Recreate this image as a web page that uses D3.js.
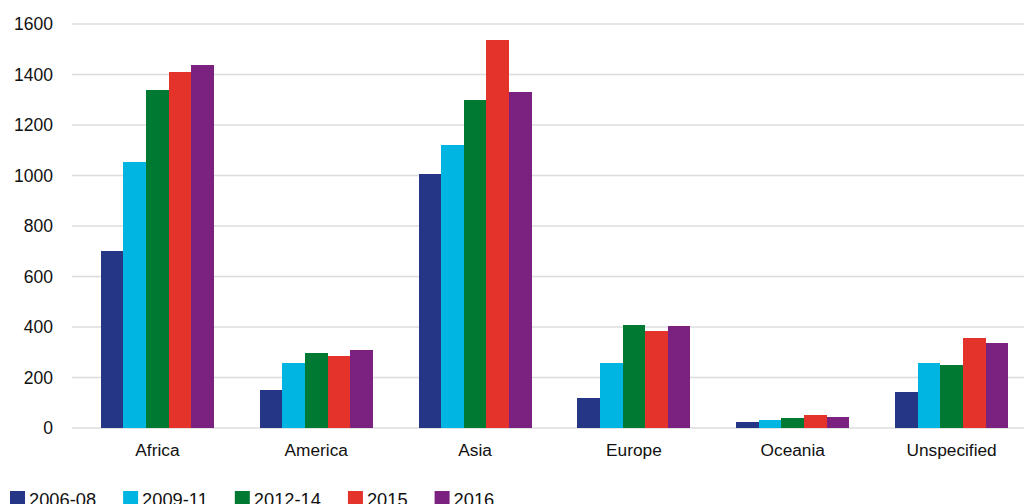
<!DOCTYPE html>
<html>
<head>
<meta charset="utf-8">
<script src="https://cdn.jsdelivr.net/npm/d3@7"></script>
<style>
  body { margin: 0; background: #fff; }
  svg { display: block; font-family: "Liberation Sans", Arial, sans-serif; }
</style>
</head>
<body>
<script>
var regions = ["Africa", "America", "Asia", "Europe", "Oceania", "Unspecified"];
var periods = ["2006-08", "2009-11", "2012-14", "2015", "2016"];
var colors = ["#253686", "#00b5e2", "#007a33", "#e4332a", "#7b2281"];

// one array per period, in region order
var v200608 = [700, 150, 1005, 119, 24, 143];
var v200911 = [1055, 257, 1120, 257, 32, 257];
var v201214 = [1340, 297, 1300, 408, 40, 250];
var v2015 = [1410, 285, 1537, 384, 51, 356];
var v2016 = [1437, 309, 1330, 404, 44, 337];
var series = [v200608, v200911, v201214, v2015, v2016];

var yTicks = [0, 200, 400, 600, 800, 1000, 1200, 1400, 1600];

var width = 1024, height = 504;

var svg = d3.select("body").append("svg")
    .attr("width", width)
    .attr("height", height);

var x = d3.scaleBand()
    .domain(regions)
    .range([78, 1031])
    .paddingInner(0)
    .paddingOuter(0);

var xInner = d3.scaleBand()
    .domain(periods)
    .range([0, x.bandwidth() * 0.712]);

var groupOffset = (x.bandwidth() - xInner.range()[1]) / 2;

var y = d3.scaleLinear()
    .domain([0, 1600])
    .range([428, 24]);

// gridlines
svg.append("g").selectAll("line")
    .data(yTicks)
    .enter().append("line")
      .attr("x1", 72)
      .attr("x2", width)
      .attr("y1", function(d) { return y(d); })
      .attr("y2", function(d) { return y(d); })
      .attr("stroke", "#dcdcdc")
      .attr("stroke-width", 1.5);

// y labels
svg.append("g").selectAll("text")
    .data(yTicks)
    .enter().append("text")
      .attr("x", 53)
      .attr("y", function(d) { return y(d); })
      .attr("dy", "0.35em")
      .attr("text-anchor", "end")
      .attr("font-size", 17.5)
      .attr("fill", "#111")
      .text(function(d) { return d; });

// bars
var rows = [];
regions.forEach(function(r, i) {
  periods.forEach(function(p, j) {
    rows.push({region: r, period: p, value: series[j][i], color: colors[j]});
  });
});

svg.append("g").selectAll("rect")
    .data(rows)
    .enter().append("rect")
      .attr("x", function(d) { return x(d.region) + groupOffset + xInner(d.period); })
      .attr("width", xInner.bandwidth())
      .attr("y", function(d) { return y(d.value); })
      .attr("height", function(d) { return y(0) - y(d.value); })
      .attr("fill", function(d) { return d.color; })
      .attr("shape-rendering", "crispEdges");

// category labels
svg.append("g").selectAll("text")
    .data(regions)
    .enter().append("text")
      .attr("x", function(d) { return x(d) + x.bandwidth() / 2; })
      .attr("y", 456)
      .attr("text-anchor", "middle")
      .attr("font-size", 17.3)
      .attr("fill", "#111")
      .text(function(d) { return d; });

// legend, flowing by text width
var legend = svg.append("g");
var lx = 10;
periods.forEach(function(p, j) {
  legend.append("rect")
    .attr("x", lx)
    .attr("y", 491)
    .attr("width", 15)
    .attr("height", 15)
    .attr("fill", colors[j]);
  var t = legend.append("text")
    .attr("x", lx + 19)
    .attr("y", 506)
    .attr("font-size", 18.3)
    .attr("fill", "#111")
    .text(p);
  lx = lx + 19 + t.node().getComputedTextLength() + 27;
});
</script>
</body>
</html>
